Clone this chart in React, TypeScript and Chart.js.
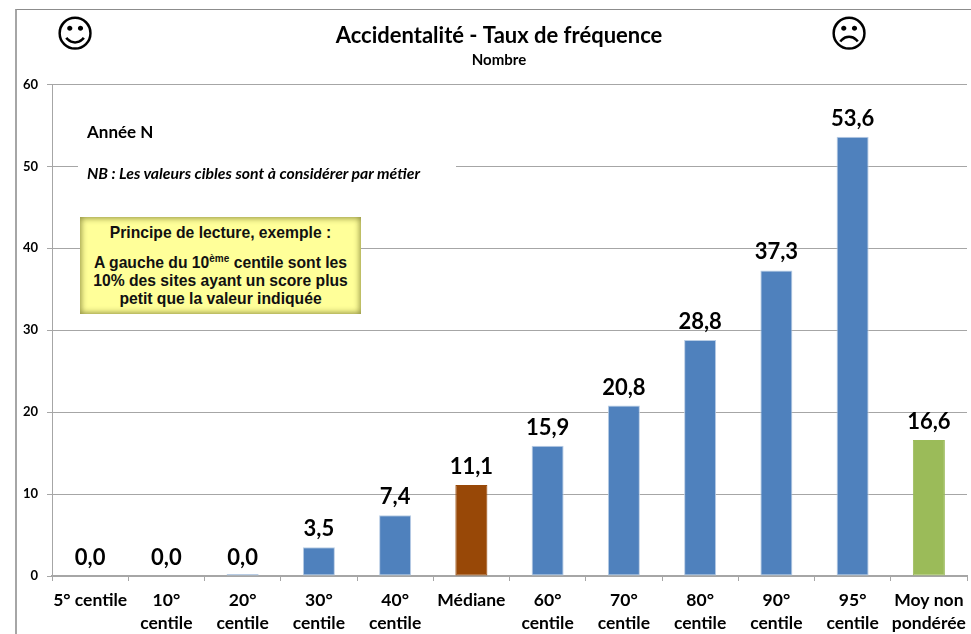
import React, { useEffect, useRef } from "react";
import { Chart, registerables } from "chart.js";

Chart.register(...registerables);

const categories: (string | string[])[] = [
  "5° centile",
  ["10°", "centile"],
  ["20°", "centile"],
  ["30°", "centile"],
  ["40°", "centile"],
  "Médiane",
  ["60°", "centile"],
  ["70°", "centile"],
  ["80°", "centile"],
  ["90°", "centile"],
  ["95°", "centile"],
  ["Moy non", "pondérée"],
];
const values = [0, 0, 0.04, 3.5, 7.4, 11.1, 15.9, 20.8, 28.8, 37.3, 53.6, 16.6];
const barColors = ["#4F81BD", "#4F81BD", "#4F81BD", "#4F81BD", "#4F81BD", "#984807", "#4F81BD", "#4F81BD", "#4F81BD", "#4F81BD", "#4F81BD", "#9BBB59"];
const FONT = "Lato, 'Noto Sans', sans-serif";

const valueLabels = {
  id: "valueLabels",
  afterDatasetsDraw(chart: any) {
    const { ctx } = chart;
    ctx.save();
    ctx.font = `bold 22px ${FONT}`;
    ctx.fillStyle = "#000";
    ctx.textAlign = "center";
    ctx.textBaseline = "alphabetic";
    chart.getDatasetMeta(0).data.forEach((bar: any, i: number) => {
      ctx.fillText(values[i].toFixed(1).replace(".", ","), bar.x, chart.scales.y.getPixelForValue(values[i]) - 11);
    });
    ctx.restore();
  },
};

// The title block in the reference is centred a little left of the page centre.
const titleCentre = {
  id: "titleCentre",
  afterLayout(chart: any) {
    chart.boxes.forEach((b: any) => {
      if (!b.axis && b.position === "top") {
        b.left = 27;
        b.right = 971;
      }
    });
  },
};

const abs = (s: React.CSSProperties): React.CSSProperties => ({ position: "absolute", ...s });

export default function App() {
  const ref = useRef<HTMLCanvasElement>(null);
  useEffect(() => {
    const chart = new Chart(ref.current!, {
      type: "bar",
      data: {
        labels: categories as any,
        datasets: [
          {
            data: values,
            backgroundColor: (c: any) => (values[c.dataIndex] === 0 ? "transparent" : barColors[c.dataIndex]),
            borderColor: (c: any) =>
              values[c.dataIndex] === 0 ? "transparent" : barColors[c.dataIndex] === "#4F81BD" ? "#B9CDE5" : barColors[c.dataIndex],
            borderWidth: 1,
            borderSkipped: false,
            categoryPercentage: 1,
            barPercentage: 0.42,
            minBarLength: 2,
          },
        ],
      },
      options: {
        responsive: false,
        animation: false,
        layout: { padding: { left: 0, right: 4, top: 0, bottom: 0 } },
        plugins: {
          legend: { display: false },
          tooltip: { enabled: false },
          title: {
            display: true,
            text: "Accidentalité - Taux de fréquence",
            color: "#000",
            font: { family: FONT, size: 22, weight: "bold" },
            padding: { top: 23, bottom: 0 },
          },
          subtitle: {
            display: true,
            text: "Nombre",
            color: "#000",
            font: { family: FONT, size: 15, weight: "bold" },
            padding: { top: 2, bottom: 15 },
          },
        },
        scales: {
          x: {
            afterFit: (s: any) => {
              s.height = 58;
              s.paddingLeft = 0;
              s.paddingRight = 0;
            },
            border: { color: "#A6A6A6", width: 2 },
            grid: { drawOnChartArea: false, drawTicks: true, tickLength: 5, color: "#A6A6A6", lineWidth: 1 },
            ticks: {
              color: "#000",
              maxRotation: 0,
              autoSkip: false,
              padding: 8,
              font: { family: FONT, size: 17.5, weight: "bold", lineHeight: 1.32 },
            },
          },
          y: {
            min: 0,
            max: 60,
            afterFit: (s: any) => { s.width = 52; },
            border: { color: "#A6A6A6", width: 1 },
            grid: { color: "#A6A6A6", lineWidth: 1, tickLength: 5 },
            ticks: {
              stepSize: 10,
              color: "#000",
              padding: 9,
              font: { family: FONT, size: 13, weight: "bold" },
            },
          },
        },
      } as any,
      plugins: [valueLabels, titleCentre],
    });
    return () => chart.destroy();
  }, []);

  return (
    <div style={{ position: "fixed", left: 0, top: 0, width: 971, height: 634, background: "#fff", overflow: "hidden" }}>
      <canvas ref={ref} width={971} height={634} style={{ display: "block", position: "absolute", left: 0, top: 0 }} />
      <div style={abs({ left: 15, top: 9, width: 956, height: 625, borderLeft: "2px solid #A6A6A6", borderTop: "1px solid #8C8C8C", boxSizing: "border-box" })} />
      <div style={abs({ left: 55, top: 12, width: 40, height: 50, lineHeight: "50px", textAlign: "center", font: "bold 38px 'DejaVu Sans'" })}>☺</div>
      <div style={abs({ left: 829, top: 12, width: 40, height: 50, lineHeight: "50px", textAlign: "center", font: "bold 38px 'DejaVu Sans'" })}>☹</div>
      <div style={abs({ left: 78, top: 112, width: 378, height: 84, background: "#fff", fontFamily: FONT, fontWeight: "bold", color: "#000" })}>
        <div style={abs({ left: 9, top: 9, fontSize: 17 })}>Année N</div>
        <div style={abs({ left: 9, top: 51, fontSize: 15.8, fontStyle: "italic", whiteSpace: "nowrap" })}>NB : Les valeurs cibles sont à considérer par métier</div>
      </div>
      <div style={abs({ left: 80, top: 217, width: 281, height: 97, background: "#FFFF99", boxShadow: "inset 0 0 6px 1px #8A8A3C", boxSizing: "border-box", textAlign: "center", fontFamily: "'Liberation Sans', sans-serif", fontWeight: "bold", fontSize: 15.7, color: "#111", whiteSpace: "nowrap" })}>
        <div style={{ marginTop: 7, lineHeight: "18px" }}>Principe de lecture, exemple :</div>
        <div style={{ marginTop: 12, lineHeight: "18px" }}>
          A gauche du 10<sup style={{ fontSize: 10, lineHeight: 0 }}>ème</sup> centile sont les<br />10% des sites ayant un score plus<br />petit que la valeur indiquée
        </div>
      </div>
    </div>
  );
}
